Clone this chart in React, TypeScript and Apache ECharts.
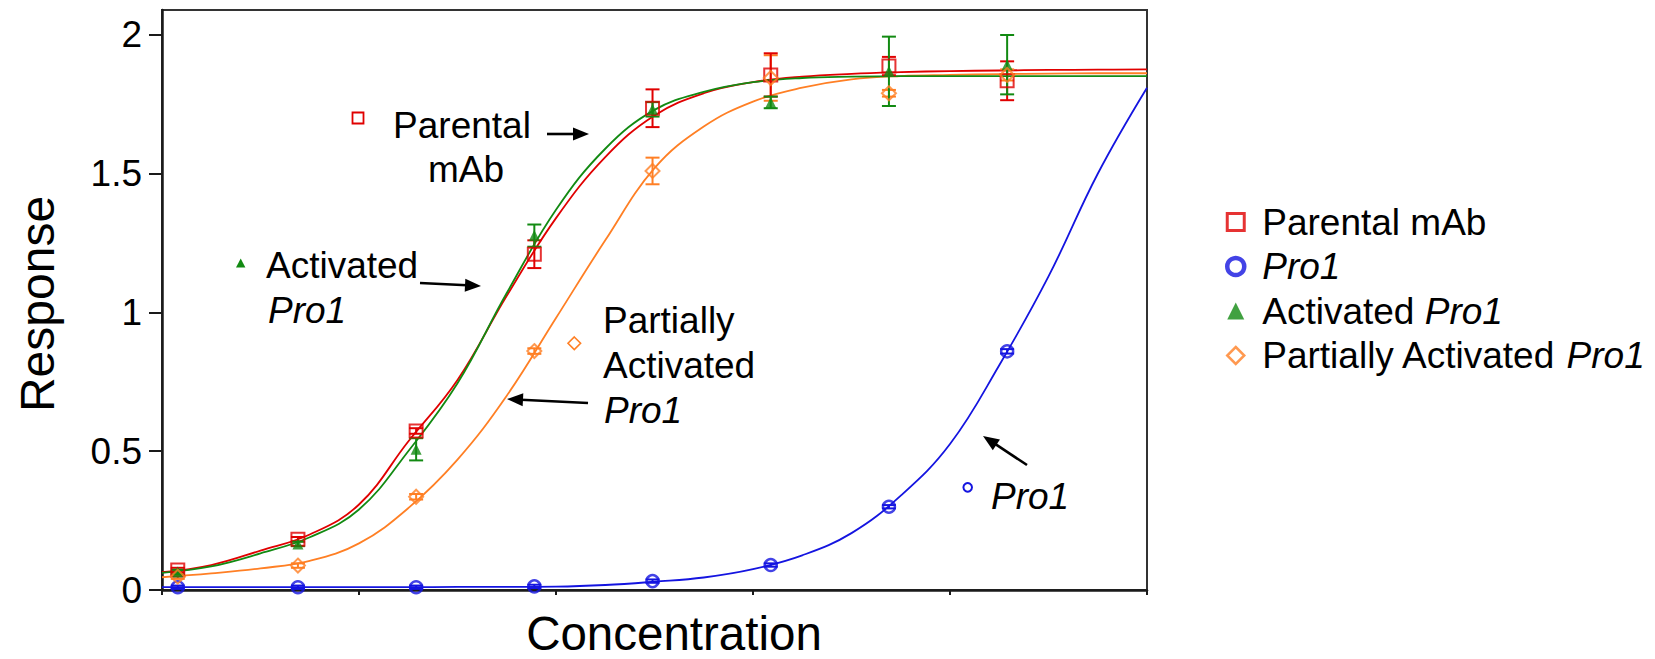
import React, { useEffect, useRef } from 'react';
import * as echarts from 'echarts';

// ---- data ----
const xPoints = [0.08, 0.69, 1.29, 1.89, 2.49, 3.09, 3.69, 4.29];

const parentalY = [0.072, 0.183, 0.573, 1.21, 1.736, 1.856, 1.888, 1.835];
const parentalErr = [0.008, 0.008, 0.01, 0.05, 0.068, 0.078, 0.033, 0.07];

const pro1Y = [0.01, 0.01, 0.01, 0.013, 0.032, 0.09, 0.3, 0.86];
const pro1Err = [0.006, 0.006, 0.006, 0.006, 0.006, 0.006, 0.006, 0.008];

const activatedY = [0.065, 0.166, 0.507, 1.277, 1.732, 1.757, 1.869, 1.893];
const activatedErr = [0.008, 0.008, 0.04, 0.04, 0.026, 0.021, 0.125, 0.107];

const partialY = [0.048, 0.088, 0.336, 0.861, 1.51, 1.845, 1.79, 1.856];
const partialErr = [0.008, 0.008, 0.01, 0.01, 0.048, 0.082, 0.012, 0.02];

// fitted curves at these x positions
const curveX = [0, 0.25, 0.5, 0.75, 1, 1.25, 1.5, 1.75, 2, 2.25, 2.5, 2.75, 3, 3.25, 3.5, 3.75, 4, 4.25, 4.5, 4.75, 5];
const parentalFit = [0.064, 0.09, 0.142, 0.2, 0.308, 0.535, 0.757, 1.06, 1.34, 1.56, 1.71, 1.79, 1.83, 1.85, 1.86, 1.866, 1.87, 1.872, 1.874, 1.875, 1.876];
const activatedFit = [0.062, 0.085, 0.132, 0.19, 0.29, 0.5, 0.745, 1.07, 1.37, 1.59, 1.73, 1.795, 1.83, 1.845, 1.85, 1.852, 1.852, 1.852, 1.852, 1.852, 1.852];
const partialFit = [0.046, 0.06, 0.078, 0.105, 0.168, 0.295, 0.47, 0.7, 0.98, 1.26, 1.52, 1.67, 1.76, 1.81, 1.84, 1.852, 1.856, 1.859, 1.861, 1.862, 1.862];
const pro1Fit = [0.01, 0.01, 0.01, 0.01, 0.01, 0.01, 0.011, 0.011, 0.012, 0.018, 0.03, 0.045, 0.075, 0.125, 0.205, 0.34, 0.526, 0.81, 1.13, 1.5, 1.81];

const yTicks = [0, 0.5, 1, 1.5, 2];

const seriesNames = ['Parental mAb', 'Pro1', 'Activated Pro1', 'Partially Activated Pro1'];

const FONT = '"Liberation Sans", Arial, Helvetica, sans-serif';
const RED = '#e00000';
const BLUE = '#1414e0';
const GREEN = '#128a12';
const ORANGE = '#ff7f24';
const AXIS = '#1a1a1a';

function pairs(xs: number[], ys: number[]) {
  return xs.map((x, i) => [x, ys[i]]);
}

function errorSeries(name: string, color: string, xs: number[], ys: number[], es: number[]) {
  return {
    type: 'custom',
    name,
    silent: true,
    clip: false,
    z: 3,
    data: xs.map((x, i) => [x, ys[i], es[i]]),
    encode: { x: 0, y: 1 },
    renderItem: (params: any, api: any) => {
      const x = api.value(0);
      const y = api.value(1);
      const e = api.value(2);
      const top = api.coord([x, y + e]);
      const bot = api.coord([x, y - e]);
      const hw = 7;
      const style = { stroke: color, lineWidth: 2, fill: null };
      return {
        type: 'group',
        children: [
          { type: 'line', shape: { x1: top[0], y1: top[1], x2: bot[0], y2: bot[1] }, style },
          { type: 'line', shape: { x1: top[0] - hw, y1: top[1], x2: top[0] + hw, y2: top[1] }, style },
          { type: 'line', shape: { x1: bot[0] - hw, y1: bot[1], x2: bot[0] + hw, y2: bot[1] }, style },
        ],
      };
    },
  };
}

function fitSeries(name: string, color: string, ys: number[]) {
  return {
    type: 'line',
    name,
    silent: true,
    data: pairs(curveX, ys),
    symbol: 'none',
    showSymbol: false,
    smooth: 0.4,
    lineStyle: { color, width: 1.8 },
    z: 2,
  };
}

function pointSeries(name: string, color: string, ys: number[], symbol: string, size: number, filled: boolean, bw: number) {
  return {
    type: 'scatter',
    name,
    silent: true,
    data: pairs(xPoints, ys),
    symbol,
    symbolSize: size,
    itemStyle: filled
      ? { color, borderWidth: 0 }
      : { color: 'rgba(255,255,255,0)', borderColor: color, borderWidth: bw },
    z: 4,
  };
}

function arrow(x1: number, y1: number, x2: number, y2: number) {
  const dx = x2 - x1;
  const dy = y2 - y1;
  const len = Math.sqrt(dx * dx + dy * dy);
  const ux = dx / len;
  const uy = dy / len;
  const hl = 16;
  const hw = 6.5;
  const bx = x2 - ux * hl;
  const by = y2 - uy * hl;
  return [
    {
      type: 'line',
      shape: { x1, y1, x2: bx + ux * 2, y2: by + uy * 2 },
      style: { stroke: '#000', lineWidth: 2.6 },
    },
    {
      type: 'polygon',
      shape: {
        points: [
          [x2, y2],
          [bx - uy * hw, by + ux * hw],
          [bx + uy * hw, by - ux * hw],
        ],
      },
      style: { fill: '#000' },
    },
  ];
}

function label(text: string, x: number, y: number, opts: any = {}) {
  return {
    type: 'text',
    x,
    y,
    style: {
      text,
      fontSize: 37,
      fontFamily: FONT,
      fill: '#000',
      align: 'left',
      verticalAlign: 'middle',
      ...opts,
    },
  };
}

export default function App() {
  const ref = useRef<HTMLDivElement>(null);

  useEffect(() => {
    if (!ref.current) return;
    const chart = echarts.init(ref.current, undefined, { renderer: 'svg' });

    const option: any = {
      animation: false,
      backgroundColor: '#ffffff',
      grid: {
        left: 162,
        right: 508,
        top: 10,
        bottom: 69,
        show: true,
        borderColor: '#333',
        borderWidth: 2,
      },
      xAxis: {
        type: 'value',
        min: 0,
        max: 5,
        interval: 1,
        axisLine: { show: true, onZero: false, lineStyle: { color: AXIS, width: 2.5 } },
        axisTick: { show: true, length: 5, lineStyle: { color: AXIS, width: 2 } },
        axisLabel: { show: false },
        splitLine: { show: false },
      },
      yAxis: {
        type: 'value',
        min: 0,
        max: 2.09,
        axisLine: { show: true, onZero: false, lineStyle: { color: AXIS, width: 2.5 } },
        axisTick: { show: true, length: 13, customValues: yTicks, lineStyle: { color: AXIS, width: 2 } },
        axisLabel: {
          customValues: yTicks,
          formatter: (v: number) => String(v),
          fontSize: 37,
          fontFamily: FONT,
          color: '#000',
          margin: 20,
        },
        splitLine: { show: false },
      },
      legend: {
        orient: 'vertical',
        left: 1220,
        top: 197,
        selectedMode: false,
        itemWidth: 17,
        itemHeight: 17,
        itemGap: 4.5,
        formatter: (name: string) => {
          const k = name.indexOf('Pro1');
          if (k < 0) return '{s| }' + name;
          return '{s| }' + name.slice(0, k) + '{i|Pro1}';
        },
        textStyle: {
          fontSize: 37,
          fontFamily: FONT,
          color: '#000',
          lineHeight: 40,
          rich: {
            s: { width: 13, fontSize: 37, lineHeight: 40 },
            i: { fontStyle: 'italic', fontSize: 37, fontFamily: FONT, color: '#000', lineHeight: 40 },
          },
        },
        data: [
          { name: seriesNames[0], icon: 'rect', itemStyle: { color: '#fff', borderColor: RED, borderWidth: 3 } },
          { name: seriesNames[1], icon: 'circle', itemStyle: { color: '#fff', borderColor: BLUE, borderWidth: 4.5 } },
          { name: seriesNames[2], icon: 'triangle', itemStyle: { color: GREEN, borderWidth: 0 } },
          { name: seriesNames[3], icon: 'diamond', itemStyle: { color: '#fff', borderColor: ORANGE, borderWidth: 2.5 } },
        ],
      },
      graphic: [
        // axis titles
        {
          type: 'text',
          x: 37,
          y: 304,
          rotation: Math.PI / 2,
          style: { text: 'Response', fontSize: 48, fontFamily: FONT, fill: '#000', align: 'center', verticalAlign: 'middle' },
        },
        {
          type: 'text',
          x: 674,
          y: 633,
          style: { text: 'Concentration', fontSize: 47.5, fontFamily: FONT, fill: '#000', align: 'center', verticalAlign: 'middle' },
        },
        // Parental mAb annotation
        label('Parental', 462, 125, { align: 'center' }),
        label('mAb', 466, 169, { align: 'center' }),
        { type: 'rect', shape: { x: 352.5, y: 112.5, width: 11, height: 11 }, style: { fill: 'none', stroke: RED, lineWidth: 1.8 } },
        ...arrow(547, 134, 589, 134),
        // Activated Pro1 annotation
        label('Activated', 266, 265),
        label('Pro1', 268, 310, { fontStyle: 'italic' }),
        { type: 'polygon', shape: { points: [[240.7, 258.5], [236, 267.5], [245.4, 267.5]] }, style: { fill: GREEN } },
        ...arrow(420, 283, 481, 286),
        // Partially Activated Pro1 annotation
        label('Partially', 603, 320),
        label('Activated', 603, 365),
        label('Pro1', 604, 410, { fontStyle: 'italic' }),
        { type: 'polygon', shape: { points: [[574.3, 337], [580.6, 343.3], [574.3, 349.6], [568, 343.3]] }, style: { fill: 'none', stroke: ORANGE, lineWidth: 1.6 } },
        ...arrow(588, 403, 507, 399),
        // Pro1 annotation
        label('Pro1', 991, 496, { fontStyle: 'italic' }),
        { type: 'circle', shape: { cx: 967.7, cy: 487.3, r: 4.3 }, style: { fill: 'none', stroke: BLUE, lineWidth: 2 } },
        ...arrow(1027, 465, 983, 436),
      ],
      series: [
        fitSeries('fit-pro1', BLUE, pro1Fit),
        fitSeries('fit-partial', ORANGE, partialFit),
        fitSeries('fit-parental', RED, parentalFit),
        fitSeries('fit-activated', GREEN, activatedFit),
        errorSeries('err-pro1', BLUE, xPoints, pro1Y, pro1Err),
        errorSeries('err-partial', ORANGE, xPoints, partialY, partialErr),
        errorSeries('err-parental', RED, xPoints, parentalY, parentalErr),
        errorSeries('err-activated', GREEN, xPoints, activatedY, activatedErr),
        pointSeries(seriesNames[0], RED, parentalY, 'rect', 13, false, 2),
        pointSeries(seriesNames[1], BLUE, pro1Y, 'circle', 12, false, 2.5),
        pointSeries(seriesNames[2], GREEN, activatedY, 'triangle', 11, true, 0),
        pointSeries(seriesNames[3], ORANGE, partialY, 'diamond', 14, false, 2),
      ],
    };

    chart.setOption(option);
    return () => {
      chart.dispose();
    };
  }, []);

  return (
    <div
      ref={ref}
      style={{ position: 'fixed', left: 0, top: 0, width: 1655, height: 659, background: '#fff' }}
    />
  );
}
